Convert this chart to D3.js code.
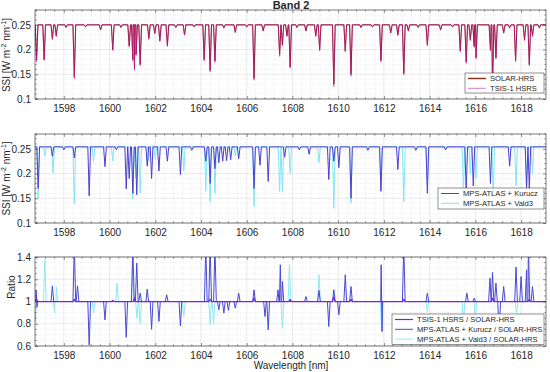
<!doctype html>
<html>
<head>
<script src="https://cdnjs.cloudflare.com/ajax/libs/d3/7.8.5/d3.min.js"></script>
<style>
  body { margin: 0; background: #fff; }
  svg text { font-family: "Liberation Sans", Arial, sans-serif; fill: #262626; }
  .domain { display: none; }
</style>
</head>
<body>
<svg id="chart" width="550" height="372"></svg>
<script>
// wavelength axis
var xDomain = [1596.74, 1619.09];
var xTicks = [1598, 1600, 1602, 1604, 1606, 1608, 1610, 1612, 1614, 1616, 1618];
var ssiTicks = [0.1, 0.15, 0.2, 0.25];
var ratioTicks = [0.6, 0.8, 1, 1.2, 1.4];

// absorption lines: [wavelength nm, SSI at line core]
var solarDips = [[1596.81,0.18],[1597.14,0.18],[1597.50,0.222],[1597.67,0.228],[1598.10,0.245],[1598.46,0.145],
  [1598.95,0.246],[1599.61,0.24],[1600.14,0.20],[1600.50,0.245],[1600.86,0.208],[1601.02,0.18],[1601.09,0.162],
  [1601.16,0.19],[1601.34,0.17],[1601.72,0.223],[1601.98,0.233],[1602.20,0.218],[1602.53,0.208],[1602.90,0.245],
  [1603.28,0.23],[1603.70,0.246],[1604.14,0.18],[1604.40,0.158],[1604.61,0.177],[1605.00,0.244],[1605.50,0.235],
  [1606.00,0.246],[1606.32,0.142],[1606.72,0.238],[1607.44,0.19],[1607.56,0.21],[1607.76,0.228],[1607.90,0.165],
  [1608.20,0.245],[1608.59,0.238],[1609.02,0.228],[1609.19,0.20],[1609.81,0.13],[1610.31,0.198],[1610.56,0.15],
  [1611.00,0.245],[1611.50,0.246],[1611.87,0.178],[1612.30,0.234],[1612.61,0.23],[1612.87,0.152],[1613.07,0.238],
  [1613.50,0.245],[1613.90,0.21],[1614.48,0.24],[1615.00,0.246],[1615.34,0.198],[1615.60,0.175],[1615.78,0.22],
  [1615.95,0.207],[1616.03,0.184],[1616.66,0.2],[1616.75,0.12],[1616.90,0.184],[1617.24,0.234],[1617.50,0.244],
  [1617.76,0.178],[1618.15,0.22],[1618.36,0.17],[1618.50,0.228],[1618.80,0.244]];
var tsisDips = [[1596.81,0.175],[1597.14,0.178],[1597.50,0.22],[1597.67,0.226],[1598.10,0.244],[1598.46,0.141],
  [1598.95,0.245],[1599.61,0.24],[1600.14,0.198],[1600.50,0.244],[1600.86,0.205],[1601.02,0.176],[1601.09,0.158],
  [1601.16,0.188],[1601.34,0.167],[1601.72,0.22],[1601.98,0.232],[1602.20,0.216],[1602.53,0.206],[1602.90,0.244],
  [1603.28,0.229],[1603.70,0.245],[1604.14,0.177],[1604.40,0.155],[1604.61,0.174],[1605.00,0.243],[1605.50,0.234],
  [1606.00,0.245],[1606.32,0.138],[1606.72,0.237],[1607.44,0.186],[1607.56,0.207],[1607.76,0.226],[1607.90,0.162],
  [1608.20,0.244],[1608.59,0.237],[1609.02,0.226],[1609.19,0.197],[1609.81,0.125],[1610.31,0.195],[1610.56,0.146],
  [1611.00,0.244],[1611.50,0.245],[1611.87,0.175],[1612.30,0.233],[1612.61,0.228],[1612.87,0.149],[1613.07,0.237],
  [1613.50,0.244],[1613.90,0.207],[1614.48,0.239],[1615.00,0.245],[1615.34,0.195],[1615.60,0.172],[1615.78,0.218],
  [1615.95,0.204],[1616.03,0.181],[1616.66,0.197],[1616.75,0.115],[1616.90,0.181],[1617.24,0.233],[1617.50,0.243],
  [1617.76,0.175],[1618.15,0.218],[1618.36,0.167],[1618.50,0.226],[1618.80,0.243]];
var kuruczDips = [[1596.88,0.17],[1597.50,0.235],[1598.00,0.248],[1598.46,0.232],[1599.11,0.155],[1599.80,0.214],
  [1600.30,0.248],[1600.73,0.169],[1600.86,0.19],[1601.02,0.16],[1601.19,0.157],[1601.65,0.215],[1601.84,0.19],
  [1602.16,0.205],[1602.53,0.225],[1603.10,0.198],[1603.60,0.247],[1604.21,0.225],[1604.40,0.18],[1604.61,0.21],
  [1604.78,0.222],[1604.95,0.225],[1605.12,0.226],[1605.30,0.228],[1605.65,0.23],[1606.32,0.17],[1606.58,0.217],
  [1606.94,0.184],[1607.66,0.233],[1608.30,0.248],[1608.73,0.239],[1609.59,0.188],[1609.81,0.225],[1610.03,0.212],
  [1610.56,0.15],[1611.30,0.247],[1611.87,0.164],[1612.61,0.208],[1613.40,0.247],[1613.90,0.16],[1614.70,0.248],
  [1615.60,0.164],[1615.91,0.175],[1616.66,0.18],[1617.50,0.215],[1618.24,0.17],[1618.36,0.17]];
var vald3Dips = [[1596.88,0.15],[1597.17,0.235],[1597.53,0.201],[1598.46,0.14],[1599.30,0.225],[1600.14,0.225],
  [1601.02,0.148],[1601.16,0.19],[1601.34,0.16],[1601.72,0.225],[1602.00,0.23],[1603.25,0.206],[1604.21,0.164],
  [1604.40,0.143],[1604.61,0.16],[1605.50,0.235],[1606.32,0.133],[1607.44,0.164],[1607.56,0.164],[1607.90,0.2],
  [1609.16,0.222],[1609.81,0.13],[1610.56,0.14],[1611.87,0.17],[1612.87,0.143],[1613.90,0.18],[1615.48,0.164],
  [1615.78,0.2],[1616.03,0.19],[1616.78,0.155],[1617.78,0.175],[1618.24,0.175],[1618.50,0.2]];

// ratio excursions: [wavelength nm, ratio at peak]
var tsisRatio = [[1596.81,1.02],[1598.46,1.02],[1600.14,1.01],[1601.09,1.03],[1604.40,1.02],[1606.32,1.03],
  [1607.90,1.02],[1609.81,1.04],[1610.56,1.02],[1612.87,1.02],[1616.75,1.03],[1618.36,1.02]];
var kuruczRatio = [[1596.79,1.1],[1596.83,0.95],[1597.50,1.14],[1598.46,1.5],[1598.60,1.14],[1599.11,0.61],
  [1599.80,0.835],[1600.73,0.678],[1601.02,1.5],[1601.19,1.346],[1601.34,1.075],[1601.65,1.11],[1601.84,0.75],
  [1602.16,0.82],[1602.50,1.06],[1603.10,0.78],[1604.21,1.5],[1604.40,1.5],[1604.61,1.5],[1604.78,0.925],
  [1605.00,0.895],[1605.20,0.92],[1605.50,0.94],[1605.65,1.075],[1606.32,1.105],[1606.80,0.865],[1606.94,0.745],
  [1607.37,1.105],[1607.47,1.33],[1607.56,1.18],[1608.59,1.045],[1609.16,1.1],[1609.59,0.775],[1609.81,1.105],
  [1610.03,0.88],[1610.31,1.24],[1610.56,1.135],[1611.88,1.33],[1611.92,0.73],[1612.87,1.5],[1613.90,1.075],
  [1615.63,1.075],[1615.95,1.03],[1616.64,1.21],[1616.75,1.26],[1616.90,1.165],[1617.04,0.68],[1617.24,1.135],
  [1617.78,1.31],[1618.00,1.225],[1618.24,1.285],[1618.32,1.5],[1618.50,1.135]];
var vald3Ratio = [[1596.75,0.82],[1597.17,1.376],[1597.60,0.9],[1597.67,1.135],[1599.30,0.895],[1600.33,1.165],
  [1601.00,1.3],[1601.20,0.85],[1601.34,0.8],[1603.25,0.865],[1604.40,0.79],[1604.55,0.8],[1607.56,0.76],
  [1607.87,1.33],[1609.16,1.24],[1611.90,0.73],[1613.90,0.91],[1615.48,0.8],[1616.00,0.85],[1617.80,0.9]];

var svg = d3.select("#chart");
var left = 35, right = 546;
var x = d3.scaleLinear().domain(xDomain).range([left, right]);

// continuum plus a narrow V for each line
function spectrum(dips, base) {
  var pts = [[xDomain[0], base], [xDomain[1], base]];
  dips.forEach(function (d) {
    pts.push([d[0] - 0.06, base], [d[0], d[1]], [d[0] + 0.06, base]);
  });
  return pts.sort(function (a, b) { return a[0] - b[0]; });
}

var xMinor = d3.range(0, 56).map(function (i) { return Math.round((1596.8 + i * 0.4) * 10) / 10; })
  .filter(function (v) { return v <= xDomain[1] && v % 2 !== 0; });

function panel(o) {
  var y = d3.scaleLinear().domain(o.yDomain).range([o.bottom, o.top]);
  var g = svg.append("g");
  var clipId = "clip" + o.top;
  svg.append("clipPath").attr("id", clipId).append("rect")
    .attr("x", left).attr("y", o.top).attr("width", right - left).attr("height", o.bottom - o.top);

  // minor grid
  g.append("g").selectAll("line").data(xMinor).enter().append("line")
    .attr("x1", d => x(d)).attr("x2", d => x(d)).attr("y1", o.top).attr("y2", o.bottom)
    .attr("stroke", "#d8d8d8").attr("stroke-width", 0.5).attr("stroke-dasharray", "1,1.5");
  g.append("g").selectAll("line").data(o.yMinor).enter().append("line")
    .attr("x1", left).attr("x2", right).attr("y1", d => y(d)).attr("y2", d => y(d))
    .attr("stroke", "#d8d8d8").attr("stroke-width", 0.5).attr("stroke-dasharray", "1,1.5");
  // major grid
  g.append("g").selectAll("line").data(xTicks).enter().append("line")
    .attr("x1", d => x(d)).attr("x2", d => x(d)).attr("y1", o.top).attr("y2", o.bottom)
    .attr("stroke", "#dcdcdc").attr("stroke-width", 0.6);
  g.append("g").selectAll("line").data(o.yTicks).enter().append("line")
    .attr("x1", left).attr("x2", right).attr("y1", d => y(d)).attr("y2", d => y(d))
    .attr("stroke", "#dcdcdc").attr("stroke-width", 0.6);

  // series
  var line = d3.line().x(d => x(d[0])).y(d => y(d[1]));
  var sg = g.append("g").attr("clip-path", "url(#" + clipId + ")");
  o.series.forEach(function (s) {
    sg.append("path").attr("d", line(spectrum(s.dips, s.base)))
      .attr("fill", "none").attr("stroke", s.color).attr("stroke-width", s.width)
      .attr("stroke-opacity", s.opacity || 1).attr("stroke-linejoin", "round");
  });

  // axes, ticks inward
  var ax = g.append("g").attr("font-size", 9);
  ax.append("g").attr("transform", "translate(0," + o.bottom + ")")
    .call(d3.axisBottom(x).tickValues(xTicks).tickFormat(d3.format("d")).tickSize(-3).tickPadding(5.6));
  ax.append("g").attr("transform", "translate(0," + o.top + ")")
    .call(d3.axisTop(x).tickValues(xTicks).tickFormat("").tickSize(-3));
  ax.append("g").attr("transform", "translate(" + left + ",0)")
    .call(d3.axisLeft(y).tickValues(o.yTicks).tickFormat(d => String(d)).tickSize(-3).tickPadding(4));
  ax.append("g").attr("transform", "translate(" + right + ",0)")
    .call(d3.axisRight(y).tickValues(o.yTicks).tickFormat("").tickSize(-3));
  // minor ticks
  [o.top, o.bottom].forEach(function (yy, k) {
    ax.append("g").selectAll("line").data(xMinor).enter().append("line")
      .attr("x1", d => x(d)).attr("x2", d => x(d)).attr("y1", yy).attr("y2", k ? yy - 1.6 : yy + 1.6)
      .attr("stroke", "#262626").attr("stroke-width", 0.5);
  });
  [left, right].forEach(function (xx, k) {
    ax.append("g").selectAll("line").data(o.yMinor).enter().append("line")
      .attr("y1", d => y(d)).attr("y2", d => y(d)).attr("x1", xx).attr("x2", k ? xx - 1.6 : xx + 1.6)
      .attr("stroke", "#262626").attr("stroke-width", 0.5);
  });
  ax.selectAll(".tick line").attr("stroke", "#262626").attr("stroke-width", 0.5);
  ax.selectAll(".tick text").attr("fill", "#262626");
  g.append("rect").attr("x", left).attr("y", o.top).attr("width", right - left).attr("height", o.bottom - o.top)
    .attr("fill", "none").attr("stroke", "#262626").attr("stroke-width", 0.6);

  // legend
  var L = o.legend;
  var lg = g.append("g");
  lg.append("rect").attr("x", L.x).attr("y", L.y).attr("width", L.w).attr("height", L.h)
    .attr("fill", "#fff").attr("stroke", "#262626").attr("stroke-width", 0.5);
  L.items.forEach(function (it, i) {
    var yy = L.y + 5.5 + i * 9.8;
    lg.append("line").attr("x1", L.x + 3).attr("x2", L.x + 21).attr("y1", yy).attr("y2", yy)
      .attr("stroke", it.color).attr("stroke-width", it.width).attr("stroke-opacity", it.opacity || 1);
    lg.append("text").attr("x", L.x + 25).attr("y", yy + 2.8).attr("font-size", 7.6).text(it.label);
  });
  return y;
}

var ssiMinor = d3.range(10, 29).map(v => v / 100).filter(v => Math.round(v * 100) % 5 !== 0);
var ratioMinor = d3.range(12, 29).map(v => v / 20).filter(v => Math.round(v * 20) % 4 !== 0);

var c = {
  solar: "#7a1c22", tsis: "#c8188c",
  kurucz: "#4a3fd2", vald3: "#84e6f2",
  tsisR: "#7a1fe6", kuruczR: "#4848d6", vald3R: "#8fe9f3"
};

panel({
  top: 10, bottom: 99, yDomain: [0.1, 0.28], yTicks: ssiTicks, yMinor: ssiMinor,
  series: [
    { dips: solarDips, base: 0.25, color: c.solar, width: 1 },
    { dips: tsisDips, base: 0.25, color: c.tsis, width: 1, opacity: 0.55 }
  ],
  legend: { x: 465, y: 73, w: 79, h: 20, items: [
    { label: "SOLAR-HRS", color: "#8a2a16", width: 1.4 },
    { label: "TSIS-1 HSRS", color: "#d77ad8", width: 1 }
  ] }
});
panel({
  top: 134, bottom: 223, yDomain: [0.1, 0.28], yTicks: ssiTicks, yMinor: ssiMinor,
  series: [
    { dips: vald3Dips, base: 0.254, color: c.vald3, width: 1 },
    { dips: kuruczDips, base: 0.254, color: c.kurucz, width: 1 }
  ],
  legend: { x: 438, y: 188, w: 106, h: 21, items: [
    { label: "MPS-ATLAS + Kurucz", color: c.kurucz, width: 1 },
    { label: "MPS-ATLAS + Vald3", color: c.vald3, width: 1 }
  ] }
});
panel({
  top: 257, bottom: 346, yDomain: [0.6, 1.4], yTicks: ratioTicks, yMinor: ratioMinor,
  series: [
    { dips: vald3Ratio, base: 1, color: c.vald3R, width: 1 },
    { dips: kuruczRatio, base: 1, color: c.kuruczR, width: 1 },
    { dips: tsisRatio, base: 0.998, color: c.tsisR, width: 1.2 }
  ],
  legend: { x: 392, y: 314, w: 152, h: 30.5, items: [
    { label: "TSIS-1 HSRS / SOLAR-HRS", color: c.tsisR, width: 1.2 },
    { label: "MPS-ATLAS + Kurucz / SOLAR-HRS", color: c.kuruczR, width: 1 },
    { label: "MPS-ATLAS + Vald3 / SOLAR-HRS", color: c.vald3R, width: 1 }
  ] }
});

// titles and labels
svg.append("text").attr("x", 291).attr("y", 9).attr("text-anchor", "middle")
  .attr("font-size", 11).attr("font-weight", "bold").text("Band 2");

function ssiLabel(cy) {
  var t = svg.append("text").attr("transform", "translate(10," + cy + ") rotate(-90)")
    .attr("text-anchor", "middle").attr("font-size", 10);
  t.append("tspan").text("SSI [W m");
  t.append("tspan").attr("font-size", 7).attr("dy", -4).text("-2");
  t.append("tspan").attr("dy", 4).text(" nm");
  t.append("tspan").attr("font-size", 7).attr("dy", -4).text("-1");
  t.append("tspan").attr("dy", 4).text("]");
}
ssiLabel(55);
ssiLabel(178.5);
svg.append("text").attr("transform", "translate(15,287) rotate(-90)")
  .attr("text-anchor", "middle").attr("font-size", 10).text("Ratio");
svg.append("text").attr("x", 291).attr("y", 369).attr("text-anchor", "middle")
  .attr("font-size", 10).text("Wavelength [nm]");
</script>
</body>
</html>
